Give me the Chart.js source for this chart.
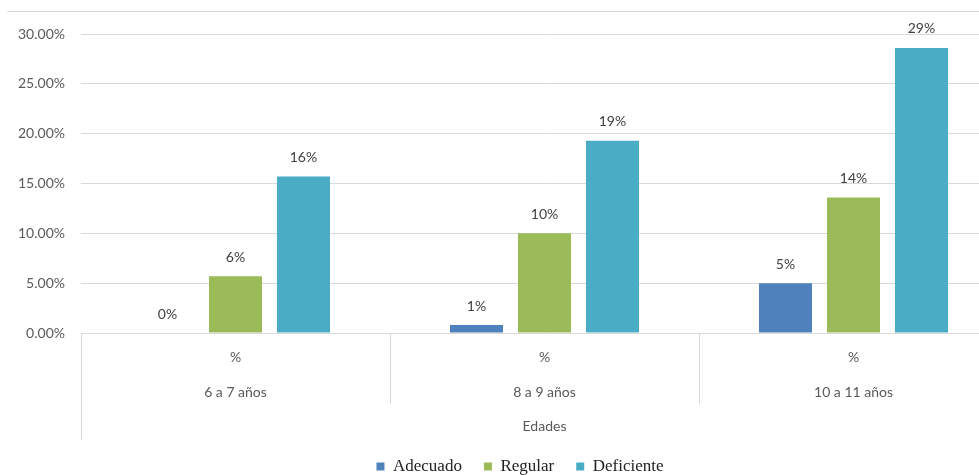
<!DOCTYPE html>
<html lang="es">
<head>
<meta charset="UTF-8">
<title>Edades</title>
<script src="https://cdn.jsdelivr.net/npm/chart.js"></script>
<style>
    html, body { margin: 0; padding: 0; background: #fff; }
    #wrap { position: relative; width: 979px; height: 475px; overflow: hidden; }
    #topline { position: absolute; top: 11px; left: 7px; right: 0; height: 1px; background: #d9d9d9; }
    #myChart { position: absolute; left: 0; top: 0; }
</style>
</head>
<body>
<div id="wrap">
    <div id="topline"></div>
    <canvas id="myChart" width="1008" height="485"></canvas>
</div>
<script>
    // grupos de edad y valores (%)
    const edades = ['6 a 7 años', '8 a 9 años', '10 a 11 años'];
    const subEtiqueta = '%';
    const adecuado = [0, 0.8, 5.0];
    const regular = [5.7, 10.0, 13.6];
    const deficiente = [15.7, 19.3, 28.6];
    const yTicks = [0, 5, 10, 15, 20, 25, 30];

    const textColor = '#595959';
    const gridColor = '#d9d9d9';

    // etiquetas de valor encima de cada barra
    const valueLabels = {
        id: 'valueLabels',
        afterDatasetsDraw(chart) {
            const ctx = chart.ctx;
            ctx.save();
            ctx.font = '14px Lato';
            ctx.fillStyle = '#404040';
            ctx.textAlign = 'center';
            ctx.textBaseline = 'middle';
            chart.data.datasets.forEach((ds, i) => {
                chart.getDatasetMeta(i).data.forEach((bar, j) => {
                    ctx.fillText(Math.round(ds.data[j]) + '%', bar.x, bar.y - 19);
                });
            });
            ctx.restore();
        }
    };

    // lineas divisorias entre grupos debajo del eje
    const dividers = {
        id: 'dividers',
        afterLayout(chart) {
            // la leyenda esta un poco corrida a la derecha en el original
            chart.legend.left += 32;
        },
        afterDraw(chart) {
            const ctx = chart.ctx;
            const area = chart.chartArea;
            const step = (area.right - area.left) / edades.length;
            ctx.save();
            ctx.strokeStyle = gridColor;
            ctx.lineWidth = 1;
            for (let i = 0; i <= edades.length; i++) {
                const x = Math.round(area.left + i * step) + 0.5;
                ctx.beginPath();
                ctx.moveTo(x, area.bottom);
                ctx.lineTo(x, area.bottom + (i === 0 ? 107 : 71));
                ctx.stroke();
            }
            ctx.restore();
        }
    };

    const ctx = document.getElementById('myChart').getContext('2d');
    new Chart(ctx, {
        type: 'bar',
        data: {
            labels: edades.map(e => [subEtiqueta, e]),
            datasets: [
                { label: 'Adecuado', data: adecuado, backgroundColor: '#4f81bd' },
                { label: 'Regular', data: regular, backgroundColor: '#9bbb59' },
                { label: 'Deficiente', data: deficiente, backgroundColor: '#4bacc6' }
            ]
        },
        options: {
            responsive: false,
            animation: false,
            categoryPercentage: 0.66,
            barPercentage: 0.78,
            layout: { padding: { top: 34, left: 0, right: 0, bottom: 0 } },
            plugins: {
                tooltip: { enabled: false },
                legend: {
                    position: 'bottom',
                    labels: {
                        boxWidth: 8,
                        boxHeight: 8,
                        padding: 22,
                        color: '#222',
                        font: { family: 'Liberation Serif', size: 17 }
                    }
                }
            },
            scales: {
                x: {
                    grid: { display: false, drawTicks: false },
                    border: { display: false },
                    ticks: {
                        color: textColor,
                        padding: 6.5,
                        maxRotation: 0,
                        font: { family: 'Lato', size: 14, lineHeight: 2.5 }
                    },
                    title: {
                        display: true,
                        text: 'Edades',
                        color: textColor,
                        padding: { top: 0, bottom: 1 },
                        font: { family: 'Lato', size: 14 }
                    },
                    afterFit(scale) { scale.height = 103; }
                },
                y: {
                    min: 0,
                    max: 30,
                    afterBuildTicks(scale) { scale.ticks = yTicks.map(v => ({ value: v })); },
                    grid: { color: gridColor, drawTicks: false },
                    border: { display: false },
                    ticks: {
                        color: textColor,
                        padding: 16,
                        font: { family: 'Lato', size: 14 },
                        callback: v => v.toFixed(2) + '%'
                    },
                    afterFit(scale) { scale.width = 81; }
                }
            }
        },
        plugins: [valueLabels, dividers]
    });
</script>
</body>
</html>
